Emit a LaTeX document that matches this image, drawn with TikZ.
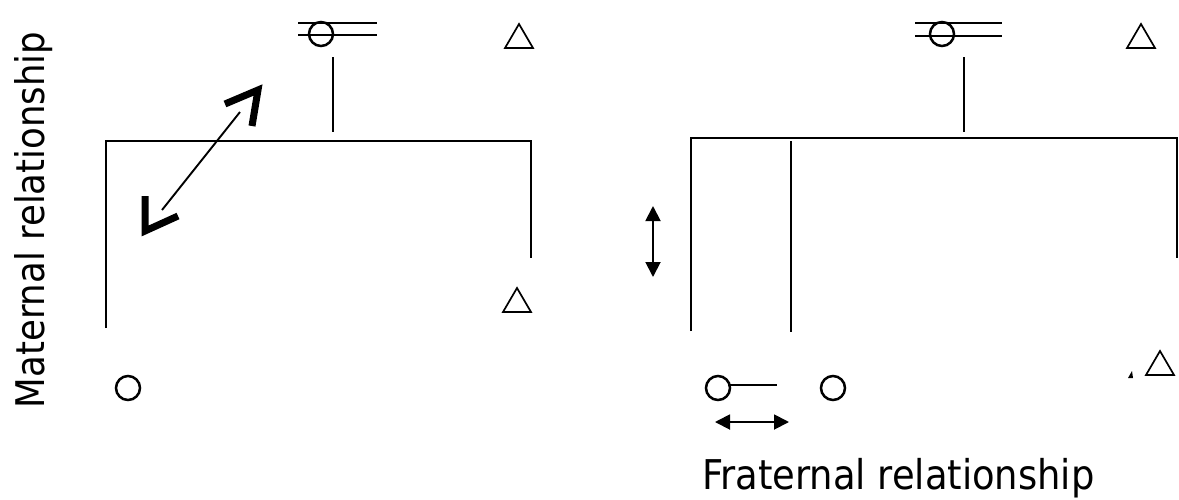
\documentclass[tikz,border=0pt]{standalone}
\usepackage{fontspec}
\setmainfont{DejaVu Sans Condensed}
\usetikzlibrary{arrows.meta}
\tikzset{
  ln/.style={line width=1.9pt, black},
  ring/.style={circle, draw, line width=2.5pt, minimum size=24pt, inner sep=0pt},
  tri/.style={line width=1.7pt, line join=miter},
  chev/.style={line width=7pt, line cap=butt, line join=miter},
  dbl/.style={line width=1.9pt, {Triangle[length=15pt,width=15pt]}-{Triangle[length=15pt,width=15pt]}},
  lbl/.style={font=\fontsize{41}{49}\selectfont, inner sep=0pt},
  lblv/.style={font=\fontsize{39.5}{47}\selectfont, inner sep=0pt}
}
\begin{document}
\begin{tikzpicture}[x=1pt,y=-1pt]
\useasboundingbox (0,0) rectangle (1179,499);

% labels
\node[lblv, rotate=90, anchor=base] (mat) at (44,220) {Maternal relationship};
\node[lbl, anchor=base west] (frat) at (702,489) {Fraternal relationship};

% ---------- left diagram ----------
\coordinate (L1a) at (298,23);  \coordinate (L1b) at (377,23);
\coordinate (L2a) at (298,35);  \coordinate (L2b) at (377,35);
\draw[ln] (L1a) -- (L1b);
\draw[ln] (L2a) -- (L2b);
\node[ring] (lc) at (321,34) {};
\coordinate (ls1) at (333,57); \coordinate (ls2) at (333,132);
\draw[ln] (ls1) -- (ls2);
\coordinate (lh1) at (106,141); \coordinate (lh2) at (531,141);
\coordinate (lv1) at (106,328); \coordinate (lv2) at (531,258);
\draw[ln] (lv1) -- (lh1) -- (lh2) -- (lv2);
\node[ring] (lb) at (128,388) {};
\draw[tri] (505,48) -- (519,24) -- (533,48) -- cycle;
\draw[tri] (503,312) -- (517,288) -- (531,312) -- cycle;
% big double arrow
\coordinate (ba1) at (240,112); \coordinate (ba2) at (162,210);
\draw[ln] (ba1) -- (ba2);
\draw[chev] (225,104) -- (258,90) -- (252,126);
\draw[chev] (145,196) -- (145,231) -- (178,216);

% ---------- right diagram ----------
\coordinate (R1a) at (915,23);  \coordinate (R1b) at (1002,23);
\coordinate (R2a) at (915,36);  \coordinate (R2b) at (1002,36);
\draw[ln] (R1a) -- (R1b);
\draw[ln] (R2a) -- (R2b);
\node[ring] (rc) at (942,34) {};
\coordinate (rs1) at (964,57); \coordinate (rs2) at (964,132);
\draw[ln] (rs1) -- (rs2);
\coordinate (rh1) at (691,138); \coordinate (rh2) at (1177,138);
\coordinate (rv1) at (691,331); \coordinate (rv2) at (1177,258);
\draw[ln] (rv1) -- (rh1) -- (rh2) -- (rv2);
\coordinate (ri1) at (791,141); \coordinate (ri2) at (791,332);
\draw[ln] (ri1) -- (ri2);
\draw[tri] (1127,48) -- (1141,24) -- (1155,48) -- cycle;
\draw[tri] (1146,375) -- (1160,351) -- (1174,375) -- cycle;
\fill (1128,378) -- (1132,371) -- (1133,378) -- cycle;
% vertical double arrow
\coordinate (va1) at (653,206); \coordinate (va2) at (653,277);
\draw[dbl] (va1) -- (va2);
% bottom circles
\node[ring] (rb1) at (718,388) {};
\node[ring] (rb2) at (833,388) {};
\coordinate (rbs) at (728,385);
\coordinate (rbl) at (777,385);
\draw[ln] (rbs) -- (rbl);
% horizontal double arrow
\coordinate (ha1) at (715,422); \coordinate (ha2) at (789,422);
\draw[dbl] (ha1) -- (ha2);
\end{tikzpicture}
\end{document}
